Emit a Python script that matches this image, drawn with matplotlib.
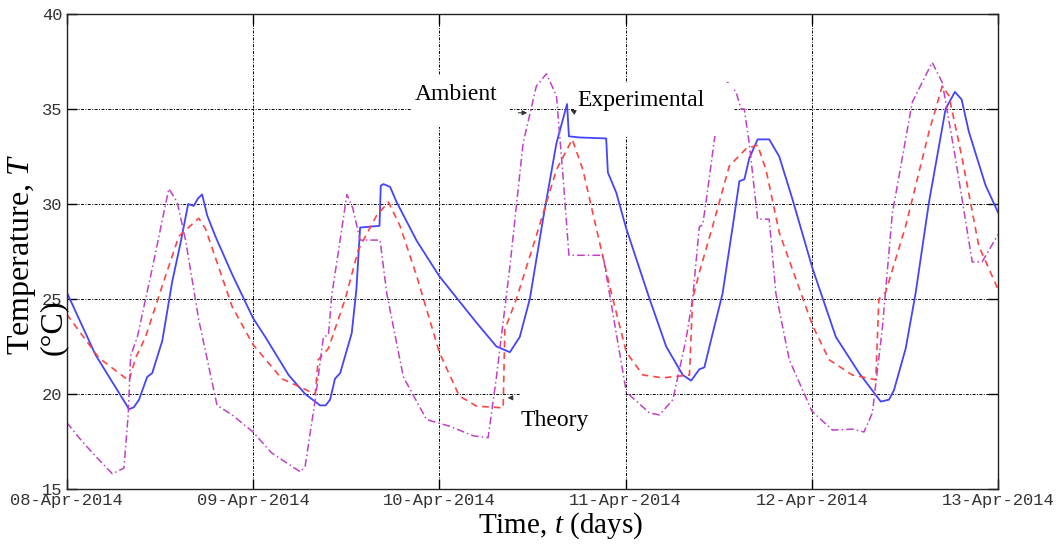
import matplotlib
matplotlib.use("Agg")
import matplotlib.pyplot as plt
import numpy as np
from matplotlib.patches import Rectangle

plt.rcParams['mathtext.fontset'] = 'custom'
plt.rcParams['mathtext.rm'] = 'Liberation Serif'
plt.rcParams['mathtext.it'] = 'Liberation Serif:italic'

# Données (jours depuis le 08-Apr-2014, température en °C)
exp_jour = [0, 0.155, 0.316, 0.334, 0.36, 0.388, 0.432, 0.459, 0.513, 0.566, 0.61, 0.652,
            0.682, 0.705, 0.727, 0.754, 0.798, 0.888, 1.0, 1.066, 1.191, 1.28, 1.36, 1.39,
            1.414, 1.44, 1.468, 1.53, 1.555, 1.575, 1.679, 1.686, 1.7, 1.736, 1.771, 1.879,
            2.0, 2.2, 2.307, 2.379, 2.432, 2.486, 2.557, 2.629, 2.686, 2.696, 2.754, 2.896,
            2.905, 2.95, 3.004, 3.129, 3.218, 3.307, 3.352, 3.396, 3.423, 3.468, 3.521, 3.575,
            3.611, 3.638, 3.664, 3.709, 3.771, 3.825, 3.896, 4.004, 4.129, 4.254, 4.37, 4.414,
            4.441, 4.504, 4.557, 4.629, 4.718, 4.768, 4.804, 4.843, 4.932, 5.0]
exp_temp = [25.36, 22.05, 19.5, 19.2, 19.3, 19.7, 20.9, 21.1, 22.8, 25.9, 27.9, 30.0,
            29.9, 30.3, 30.5, 29.4, 28.3, 26.3, 24.0, 23.0, 21.0, 20.0, 19.4, 19.4,
            19.7, 20.8, 21.1, 23.2, 25.5, 28.76, 28.85, 30.96, 31.05, 30.9, 30.1, 28.06,
            26.2, 23.75, 22.5, 22.2, 23.0, 25.0, 29.2, 33.2, 35.26, 33.56, 33.5, 33.45,
            31.66, 30.6, 28.7, 25.0, 22.5, 21.0, 20.7, 21.3, 21.4, 23.2, 25.3, 28.8,
            31.2, 31.3, 32.4, 33.4, 33.4, 32.5, 30.25, 26.6, 23.0, 21.1, 19.6, 19.7,
            20.2, 22.4, 25.3, 30.1, 35.0, 35.9, 35.5, 33.8, 31.0, 29.55]

theo_jour = [0, 0.173, 0.334, 0.37, 0.423, 0.513, 0.602, 0.709, 0.745, 0.888, 1.0, 1.155,
             1.334, 1.35, 1.405, 1.495, 1.566, 1.593, 1.664, 1.727, 1.789, 1.879, 2.0, 2.107,
             2.2, 2.343, 2.352, 2.414, 2.52, 2.629, 2.714, 2.771, 2.914, 3.004, 3.093, 3.2,
             3.343, 3.36, 3.396, 3.468, 3.557, 3.646, 3.709, 3.754, 3.825, 4.004, 4.093, 4.218,
             4.343, 4.36, 4.396, 4.504, 4.629, 4.7, 4.736, 4.807, 4.896, 5.0]
theo_temp = [24.2, 21.9, 20.7, 21.9, 23.0, 25.7, 28.3, 29.25, 28.7, 24.6, 22.6, 20.8,
             20.0, 21.8, 22.4, 25.0, 27.6, 28.1, 29.4, 30.1, 28.85, 26.2, 22.2, 19.9,
             19.36, 19.27, 23.4, 25.0, 28.3, 31.8, 33.4, 31.8, 25.7, 22.2, 21.0, 20.85,
             21.0, 25.0, 26.4, 28.85, 32.0, 32.9, 33.1, 31.8, 28.5, 23.6, 21.8, 21.0,
             20.75, 25.0, 25.35, 28.85, 33.8, 36.2, 35.7, 32.4, 27.8, 25.5]

amb_jour = [0, 0.066, 0.138, 0.245, 0.307, 0.33, 0.343, 0.379, 0.459, 0.548, 0.593, 0.638,
            0.709, 0.807, 0.888, 1.0, 1.1, 1.254, 1.28, 1.334, 1.378, 1.405, 1.423, 1.46,
            1.504, 1.535, 1.575, 1.682, 1.718, 1.807, 1.932, 2.057, 2.182, 2.262, 2.307, 2.379,
            2.45, 2.521, 2.575, 2.629, 2.664, 2.696, 2.879, 2.95, 3.004, 3.129, 3.182, 3.254,
            3.325, 3.36, 3.396, 3.414, 3.432, 3.477, 3.52, 3.548, 3.593, 3.62, 3.637, 3.664,
            3.709, 3.771, 3.807, 3.879, 4.0, 4.111, 4.218, 4.28, 4.325, 4.379, 4.432, 4.539,
            4.646, 4.7, 4.771, 4.861, 4.914, 5.0]
amb_temp = [18.5, 17.7, 16.9, 15.8, 16.1, 18.9, 22.0, 23.0, 26.6, 30.8, 30.1, 28.1,
            23.9, 19.4, 18.9, 18.0, 16.9, 15.9, 16.2, 19.7, 23.0, 23.1, 25.2, 27.6,
            30.5, 29.8, 28.1, 28.1, 25.3, 20.9, 18.65, 18.3, 17.8, 17.7, 20.9, 26.7,
            33.2, 36.2, 36.85, 35.7, 31.5, 27.3, 27.3, 23.2, 20.1, 19.0, 18.9, 19.7,
            22.9, 25.0, 28.8, 28.9, 30.1, 33.4, 36.0, 36.4, 35.9, 35.0, 35.0, 33.2,
            29.2, 29.2, 25.3, 21.8, 19.1, 18.1, 18.15, 18.0, 19.0, 23.5, 29.5, 35.35,
            37.45, 36.4, 32.4, 26.95, 26.95, 28.4]

jours_ticks = [0, 1, 2, 3, 4, 5]
dates_labels = ['08-Apr-2014', '09-Apr-2014', '10-Apr-2014', '11-Apr-2014',
                '12-Apr-2014', '13-Apr-2014']
temp_ticks = [15, 20, 25, 30, 35, 40]

fig = plt.figure(figsize=(10.59, 5.46), dpi=100)
ax = fig.add_axes([0.063, 0.1044, 0.8795, 0.870])

ax.plot(exp_jour, exp_temp, color='#4444ff', lw=1.3, zorder=2)
ax.plot(theo_jour, theo_temp, color='#ff4444', lw=1.2, ls=(0, (4, 3)), zorder=2)
ax.plot(amb_jour, amb_temp, color='#c040c8', lw=1.1, ls=(0, (5, 2, 1, 2)), zorder=2)

ax.set_xlim(0, 5)
ax.set_ylim(15, 40)
ax.set_xticks(jours_ticks)
ax.set_xticklabels(dates_labels)
ax.set_yticks(temp_ticks)
ax.grid(True, color='black', lw=0.7, ls=(0, (3, 1.5, 1, 1.5)))
ax.set_axisbelow(True)
ax.tick_params(direction='in', length=7, width=1, top=True, right=True,
               labelsize=12.3, pad=3, labelcolor='#333333')
for lab in ax.get_xticklabels() + ax.get_yticklabels():
    lab.set_family('Liberation Mono')
for s in ax.spines.values():
    s.set_linewidth(1.0)
    s.set_color('#222222')

# boites blanches des annotations (cachent la grille comme sous Matlab)
ax.add_patch(Rectangle((1.853, 34.05), 0.526, 2.74, facecolor='white', edgecolor='none', zorder=3))
ax.add_patch(Rectangle((2.728, 33.6), 0.849, 2.77, facecolor='white', edgecolor='none', zorder=3))
ax.add_patch(Rectangle((2.433, 17.3), 0.558, 2.9, facecolor='white', edgecolor='none', zorder=3))

ax.text(1.869, 35.74, 'Ambient', family='Liberation Serif', fontsize=17, va='center', zorder=4)
ax.text(2.739, 35.47, 'Experimental', family='Liberation Serif', fontsize=17, va='center', zorder=4)
ax.text(2.438, 18.63, 'Theory', family='Liberation Serif', fontsize=17, va='center', zorder=4)

fleche = dict(arrowstyle='-|>', color='#333333', lw=0.8, mutation_scale=7)
ax.annotate('', xy=(2.487, 34.8), xytext=(2.41, 34.8), arrowprops=fleche, zorder=5)
ax.annotate('', xy=(2.705, 34.95), xytext=(2.725, 34.85), arrowprops=fleche, zorder=5)
ax.annotate('', xy=(2.352, 19.8), xytext=(2.4, 19.8), arrowprops=fleche, zorder=5)

fig.text(0.529, 0.038, 'Time, $t$ (days)', family='Liberation Serif', fontsize=21,
         ha='center', va='center')
fig.text(0.035, 0.35, 'Temperature, $T$\n(°C)', family='Liberation Serif', fontsize=23,
         rotation=90, ha='center', va='bottom', multialignment='left', linespacing=1.05)

fig.savefig('out.png', dpi=100)
